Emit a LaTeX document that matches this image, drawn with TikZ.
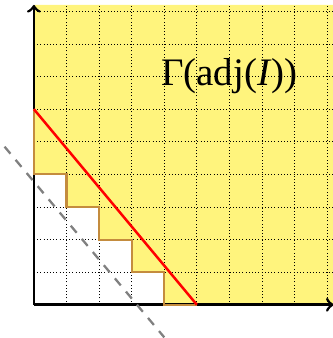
\documentclass[tikz,border=0pt]{standalone}
\usepackage{fontspec}
\setmainfont{Liberation Serif}
\usetikzlibrary{calc}
\definecolor{paleyellow}{RGB}{255,244,125}
\definecolor{stairbrown}{RGB}{196,140,62}
\definecolor{midgray}{RGB}{128,128,128}

\begin{document}
\begin{tikzpicture}[
        x=0.5cm, y=0.5cm,
        region/.style={fill=paleyellow, draw=none},
        gridline/.style={densely dotted, black, step=0.5cm},
        axis/.style={->, line width=1.2pt, black},
        stair/.style={line width=0.9pt, stairbrown},
        bound/.style={line width=1.1pt, red},
        shifted/.style={line width=1pt, midgray, dash pattern=on 4pt off 3.5pt},
        setlabel/.style={font=\fontsize{17}{20}\selectfont},
    ]
    \useasboundingbox (-1.04,-1.02) rectangle (9.17,9.35);

    % ===== Shaded set above the staircase =====
    \fill[region] (0,4) -- (1,4) -- (1,3) -- (2,3) -- (2,2) -- (3,2) -- (3,1)
        -- (4,1) -- (4,0) -- (9.2,0) -- (9.2,9.2) -- (0,9.2) -- cycle;

    % ===== Grid and axes =====
    \draw[gridline] (0,0) grid (9.2,9.2);
    \draw[axis] (0,0) -- (9.2,0);
    \draw[axis] (0,0) -- (0,9.2);

    % ===== Staircase boundary =====
    \draw[stair] (0,6) -- (0,4) -- (1,4) -- (1,3) -- (2,3) -- (2,2) -- (3,2)
        -- (3,1) -- (4,1) -- (4,0) -- (5,0);

    % Supporting line and its parallel
    \coordinate (A) at (0,6);
    \coordinate (B) at (5,0);
    \draw[bound] (A) -- (B);
    \coordinate (P) at (-0.9,4.85);
    \coordinate (Q) at (4.0,-1.0);
    \draw[shifted] (P) -- (Q);

    \node[setlabel] (gamma) at (6,7) {Γ(adj(\textit{I}))};
\end{tikzpicture}
\end{document}
